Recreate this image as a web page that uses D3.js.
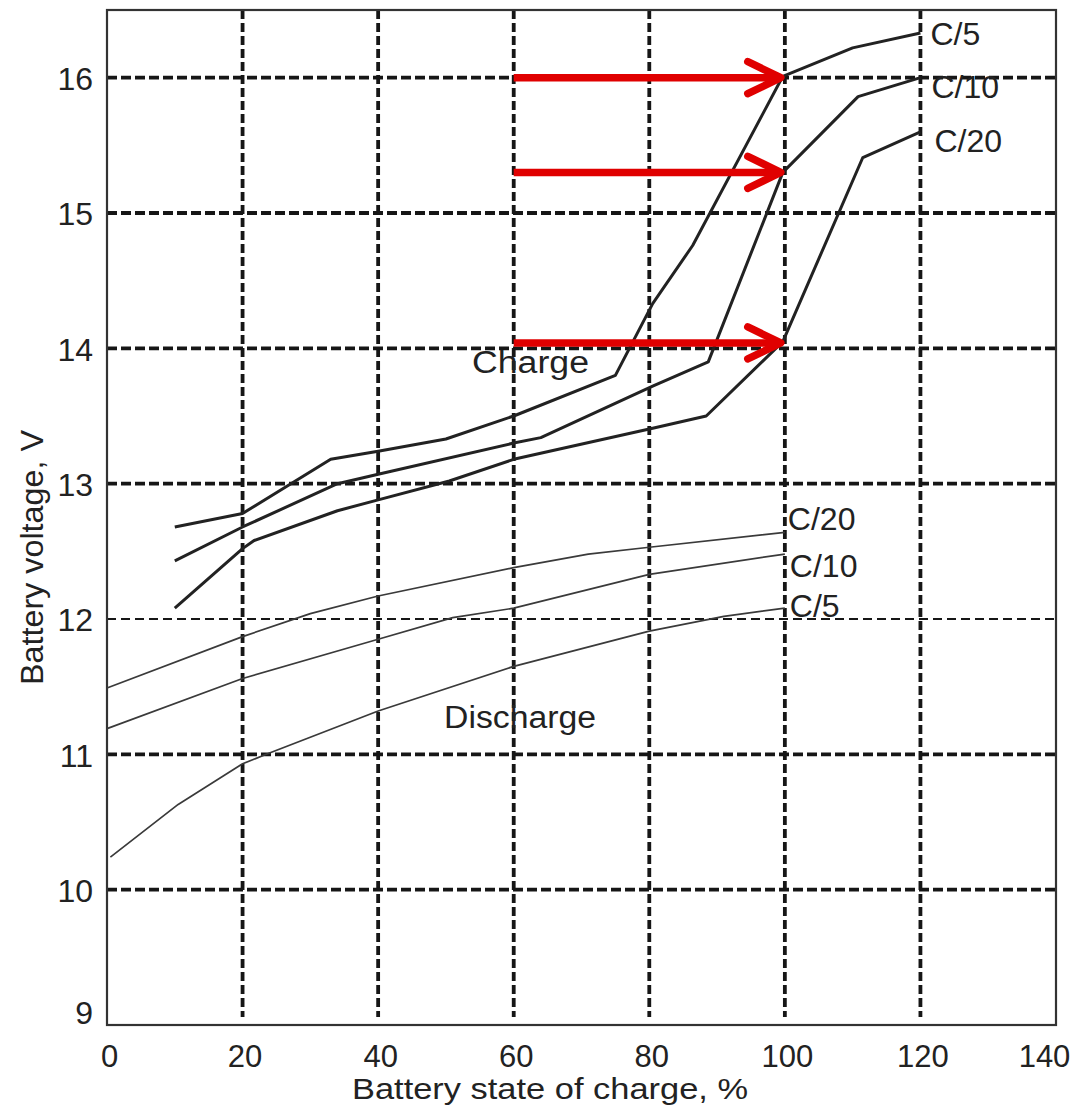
<!DOCTYPE html>
<html>
<head>
<meta charset="utf-8">
<script src="https://cdn.jsdelivr.net/npm/d3@7"></script>
<style>
  body { margin: 0; background: #fff; }
  svg { display: block; font-family: "Liberation Sans", Arial, sans-serif; }
</style>
</head>
<body>
<svg width="1073" height="1106"></svg>
<script>
// ticks
var xTicks = [0, 20, 40, 60, 80, 100, 120, 140];
var yTicks = [9, 10, 11, 12, 13, 14, 15, 16];

// charge curves (state of charge %, volts)
var chargeC5x  = [10, 20, 33, 40, 50, 60, 75, 80.5, 86.4, 99.7, 110, 120];
var chargeC5y  = [12.68, 12.78, 13.18, 13.24, 13.33, 13.5, 13.8, 14.33, 14.76, 16.01, 16.22, 16.33];
var chargeC10x = [10, 20, 34, 40, 60, 64, 80.5, 88.7, 99.7, 110.8, 120];
var chargeC10y = [12.43, 12.68, 13.0, 13.07, 13.3, 13.34, 13.72, 13.9, 15.3, 15.86, 16.0];
var chargeC20x = [10, 20, 21.7, 34, 40, 50.5, 60, 80.5, 88.4, 99.7, 111.5, 120];
var chargeC20y = [12.08, 12.52, 12.58, 12.8, 12.88, 13.02, 13.18, 13.41, 13.5, 14.05, 15.41, 15.6];

// discharge curves
var dischC20x = [0, 20, 30, 40, 60, 71, 80, 100];
var dischC20y = [11.49, 11.87, 12.04, 12.17, 12.38, 12.48, 12.53, 12.64];
var dischC10x = [0, 20, 40, 51, 60, 80, 100];
var dischC10y = [11.19, 11.56, 11.85, 12.01, 12.08, 12.33, 12.48];
var dischC5x  = [0.5, 10.5, 20, 23.5, 40, 60, 80, 91, 100];
var dischC5y  = [10.24, 10.63, 10.93, 11.0, 11.32, 11.65, 11.91, 12.02, 12.08];

// red arrows: voltage at full charge
var arrowVolts = [16.0, 15.3, 14.04];
var arrowFrom = 60, arrowTo = 99.4;

function zip(xs, ys) {
	var out = [];
	for (var i = 0; i < xs.length; i++) out.push([xs[i], ys[i]]);
	return out;
}

var svg = d3.select('svg');
var x = d3.scaleLinear().domain([0, 140]).range([107, 1056]);
var y = d3.scaleLinear().domain([9, 16.5]).range([1025, 10]);

// grid
var grid = svg.append('g').attr('class', 'grid');
grid.selectAll('line.v')
	.data(xTicks.filter(function(d){ return d > 0 && d < 140; }))
	.enter().append('line')
	.attr('x1', function(d){ return x(d); })
	.attr('x2', function(d){ return x(d); })
	.attr('y1', y(16.5))
	.attr('y2', y(9) - 8)
	.attr('stroke', '#161616')
	.attr('stroke-width', 3.8)
	.attr('stroke-dasharray', '9,4');

grid.selectAll('line.h')
	.data(yTicks.filter(function(d){ return d > 9; }))
	.enter().append('line')
	.attr('x1', x(0))
	.attr('x2', x(140))
	.attr('y1', function(d){ return y(d); })
	.attr('y2', function(d){ return y(d); })
	.attr('stroke', '#161616')
	.attr('stroke-width', function(d){ return d == 12 ? 2 : 3.8; })
	.attr('stroke-dasharray', function(d){ return d == 12 ? '9,5' : '10,4'; });

// frame
svg.append('rect')
	.attr('x', x(0)).attr('y', y(16.5))
	.attr('width', x(140) - x(0)).attr('height', y(9) - y(16.5))
	.attr('fill', 'none').attr('stroke', '#333').attr('stroke-width', 2.2);

// axes
var xAxis = d3.axisBottom(x).tickValues(xTicks).tickSize(0).tickPadding(0);
var gx = svg.append('g')
	.attr('transform', 'translate(0,' + y(9) + ')')
	.call(xAxis);
gx.select('.domain').remove();
gx.selectAll('text')
	.attr('y', 42).attr('dy', 0)
	.attr('font-size', 31).attr('fill', '#222')
	.attr('font-family', '"Liberation Sans", Arial, sans-serif')
	.attr('dx', function(d){ return d == 140 ? -12 : 2; });

var yAxis = d3.axisLeft(y).tickValues(yTicks).tickSize(0).tickPadding(0);
var gy = svg.append('g')
	.attr('transform', 'translate(' + x(0) + ',0)')
	.call(yAxis);
gy.select('.domain').remove();
gy.selectAll('text')
	.attr('x', -14).attr('dy', function(d){ return d == 9 ? '-0.05em' : '0.37em'; })
	.attr('font-size', 32).attr('fill', '#222')
	.attr('font-family', '"Liberation Sans", Arial, sans-serif');

// curves
var line = d3.line()
	.x(function(d){ return x(d[0]); })
	.y(function(d){ return y(d[1]); });

var charge = [
	{ name: 'C/5',  pts: zip(chargeC5x, chargeC5y),  dx: 10, dy: 12 },
	{ name: 'C/10', pts: zip(chargeC10x, chargeC10y), dx: 11, dy: 20 },
	{ name: 'C/20', pts: zip(chargeC20x, chargeC20y), dx: 14, dy: 20 }
];
var disch = [
	{ name: 'C/20', pts: zip(dischC20x, dischC20y), dx: 3, dy: -2 },
	{ name: 'C/10', pts: zip(dischC10x, dischC10y), dx: 5, dy: 23 },
	{ name: 'C/5',  pts: zip(dischC5x, dischC5y),   dx: 5, dy: 9 }
];

svg.append('g').selectAll('path')
	.data(disch).enter().append('path')
	.attr('d', function(d){ return line(d.pts); })
	.attr('fill', 'none').attr('stroke', '#3a3a3a').attr('stroke-width', 1.7)
	.attr('stroke-linejoin', 'round');

svg.append('g').selectAll('path')
	.data(charge).enter().append('path')
	.attr('d', function(d){ return line(d.pts); })
	.attr('fill', 'none').attr('stroke', '#222').attr('stroke-width', 3)
	.attr('stroke-linejoin', 'round');

svg.append('g').selectAll('text')
	.data(charge.concat(disch)).enter().append('text')
	.attr('x', function(d){ return x(d.pts[d.pts.length - 1][0]) + d.dx; })
	.attr('y', function(d){ return y(d.pts[d.pts.length - 1][1]) + d.dy; })
	.attr('font-size', 32).attr('fill', '#222')
	.text(function(d){ return d.name; });

// region labels
svg.append('text')
	.attr('x', 472).attr('y', 373)
	.attr('font-size', 31).attr('fill', '#222')
	.attr('textLength', 117).attr('lengthAdjust', 'spacingAndGlyphs')
	.text('Charge');
svg.append('text')
	.attr('x', 444).attr('y', 728)
	.attr('font-size', 31).attr('fill', '#222')
	.attr('textLength', 152).attr('lengthAdjust', 'spacingAndGlyphs')
	.text('Discharge');

// red arrows
var arrows = svg.append('g').attr('class', 'arrows');
arrows.selectAll('line')
	.data(arrowVolts).enter().append('line')
	.attr('x1', x(arrowFrom)).attr('x2', x(arrowTo) - 4)
	.attr('y1', function(d){ return y(d); })
	.attr('y2', function(d){ return y(d); })
	.attr('stroke', '#e00000').attr('stroke-width', 7.5);
arrows.selectAll('path')
	.data(arrowVolts).enter().append('path')
	.attr('d', function(d){
		var tx = x(arrowTo), ty = y(d);
		return 'M' + (tx - 33) + ',' + (ty - 16) + 'L' + tx + ',' + ty + 'L' + (tx - 33) + ',' + (ty + 16);
	})
	.attr('fill', 'none').attr('stroke', '#e00000').attr('stroke-width', 7.5)
	.attr('stroke-linecap', 'round').attr('stroke-linejoin', 'round');

// axis titles
svg.append('text')
	.attr('x', 352).attr('y', 1099)
	.attr('font-size', 29).attr('fill', '#222')
	.attr('textLength', 396).attr('lengthAdjust', 'spacingAndGlyphs')
	.text('Battery state of charge, %');
svg.append('text')
	.attr('transform', 'translate(43,685) rotate(-90)')
	.attr('font-size', 31).attr('fill', '#222')
	.attr('textLength', 255).attr('lengthAdjust', 'spacingAndGlyphs')
	.text('Battery voltage, V');
</script>
</body>
</html>
